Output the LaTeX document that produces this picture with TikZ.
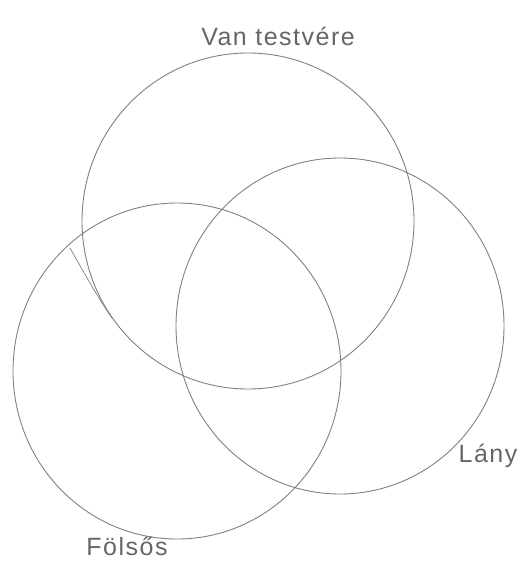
\documentclass[tikz,border=0pt]{standalone}
\usepackage{fontspec}
\newfontfamily\handfont[LetterSpace=6]{Liberation Sans}
\usetikzlibrary{calc}

\begin{document}
\begin{tikzpicture}[x=1pt, y=-1pt]
  % three hand drawn sets, coordinates in pixels of the sketch (y down)
  \useasboundingbox (0,0) rectangle (531,564);
  \tikzset{
    pencil/.style={line width=0.9pt, draw=black!50},
    setlabel/.style={font=\handfont\fontsize{25}{27}\selectfont, text=black!60, inner sep=0pt}
  }

  % ---------------- sets ----------------
  \draw[pencil] (248,221) ellipse (166 and 168);   % Van testvere
  \draw[pencil] (340,326) ellipse (164 and 168);   % Lany
  \draw[pencil] (177,371) ellipse (164 and 168);   % Folsos

  % stray pencil stroke inside the left set
  \draw[pencil, line width=0.7pt] (70,248) .. controls (86,276) and (98,298) .. (112,318);

  % ---------------- labels ----------------
  \node[setlabel] (van)  at (278,36)  {Van testvére};
  \node[setlabel] (lany) at (488,456) {Lány};
  \node[setlabel] (fels) at (127,546) {Fölsős};
\end{tikzpicture}
\end{document}
